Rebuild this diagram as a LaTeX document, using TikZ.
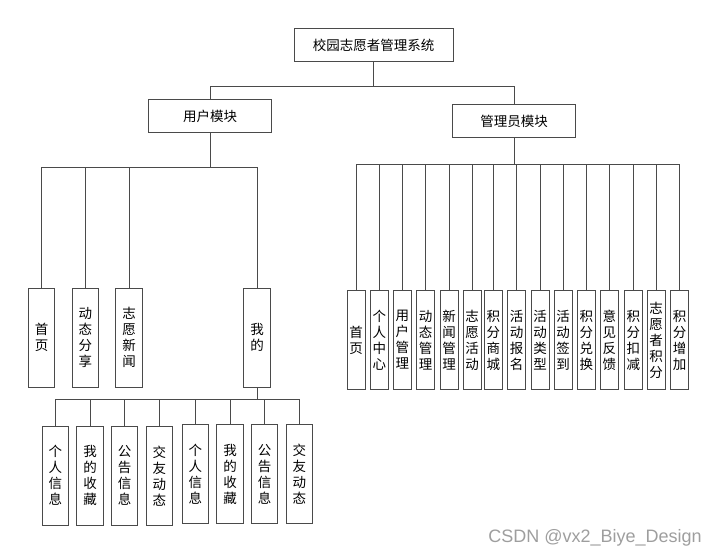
\documentclass[tikz,border=0pt]{standalone}
\usepackage{fontspec}
\usepackage{tikz}
\usetikzlibrary{positioning}
\newfontfamily\cjk{Noto Sans CJK SC}
\newfontfamily\wmfont{Liberation Sans}
\definecolor{edgegray}{HTML}{4A4A4A}

\begin{document}
\begin{tikzpicture}[
  x=1pt, y=-1pt,
  modbox/.style={draw=edgegray, line width=1pt, fill=white, inner sep=0pt, font=\cjk\fontsize{13.5}{16}\selectfont, align=center},
  topbox/.style={modbox, minimum width=159pt, minimum height=33pt},
  midbox/.style={modbox, minimum width=123pt, minimum height=33pt},
  userleaf/.style={modbox, minimum width=26.5pt, minimum height=99pt},
  adminleaf/.style={modbox, minimum width=18pt, minimum height=98.5pt},
  link/.style={draw=edgegray, line width=0.9pt}
]
\useasboundingbox (0,0) rectangle (719,558);

% top levels
\node[topbox] (root) at (373.5,45.3) {校园志愿者管理系统};
\node[midbox] (user) at (210,116) {用户模块};
\node[midbox] (admin) at (514,121) {管理员模块};

% user module children
\node[userleaf] (u1) at (41.5,337.8) {首\\页};
\node[userleaf] (u2) at (85.3,337.8) {动\\态\\分\\享};
\node[userleaf] (u3) at (129,337.8) {志\\愿\\新\\闻};
\node[userleaf] (u4) at (257,337.8) {我\\的};

% children of "mine"
\foreach \i/\x/\y/\txt in {1/55.3/475.7/个\\人\\信\\息, 2/90/475.7/我\\的\\收\\藏,
    3/124.7/475.7/公\\告\\信\\息, 4/159.3/475.7/交\\友\\动\\态,
    5/195.3/474.3/个\\人\\信\\息, 6/230/474.3/我\\的\\收\\藏,
    7/264.7/474.3/公\\告\\信\\息, 8/299.3/474.3/交\\友\\动\\态}
  \node[userleaf] (m\i) at (\x,\y) {\txt};

% admin module children
\foreach \i/\x/\txt in {1/356/首\\页, 2/379.3/个\\人\\中\\心, 3/402.3/用\\户\\管\\理,
    4/425.7/动\\态\\管\\理, 5/449/新\\闻\\管\\理, 6/472/志\\愿\\活\\动,
    7/493.3/积\\分\\商\\城, 8/516.7/活\\动\\报\\名, 9/540/活\\动\\类\\型,
    10/563/活\\动\\签\\到, 11/586.3/积\\分\\兑\\换, 12/609.3/意\\见\\反\\馈,
    13/633.3/积\\分\\扣\\减, 14/656/志\\愿\\者\\积\\分, 15/679.7/积\\分\\增\\加}
  \node[adminleaf] (a\i) at (\x,340) {\txt};

% bus lines
\coordinate (rootbus) at (373.5,86.7);
\coordinate (userbus) at (210,167.7);
\coordinate (minebus) at (257,399.3);
\coordinate (adminbus) at (514,164.3);

\draw[link] (root.south) -- (rootbus);
\draw[link] (rootbus) -| (user.north);
\draw[link] (rootbus) -| (admin.north);

\draw[link] (user.south) -- (userbus);
\foreach \n in {u1,u2,u3,u4}
  \draw[link] (userbus) -| (\n.north);

\draw[link] (u4.south) -- (minebus);
\foreach \n in {m1,m2,m3,m4,m5,m6,m7,m8}
  \draw[link] (minebus) -| (\n.north);

\draw[link] (admin.south) -- (adminbus);
\foreach \n in {1,...,15}
  \draw[link] (adminbus) -| (a\n.north);

% watermark
\node[font=\wmfont\fontsize{18}{20}\selectfont, text=black!38, inner sep=0pt] (mark) at (595,538) {CSDN @vx2\_Biye\_Design};
\end{tikzpicture}
\end{document}
